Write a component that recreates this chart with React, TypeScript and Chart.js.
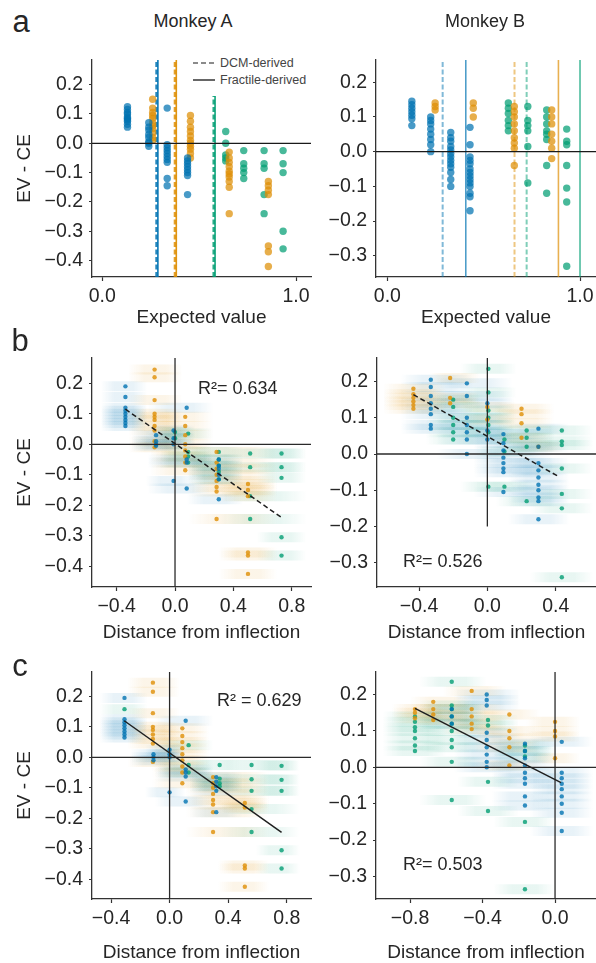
import React, { useEffect, useRef } from 'react';
import { Chart, registerables } from 'chart.js';

Chart.register(...registerables);

const FONT = "'Liberation Sans', Arial, Helvetica, sans-serif";
const INK = '#262626';
const PALETTE: Record<string, string> = { blue: '1,115,178', orange: '222,143,5', green: '2,158,115' };
const LINE_COLORS = ['blue', 'orange', 'green'];

// ---------------- Panel a, Monkey A: [expected value, EV - CE values] ----------------
type Strip = [number, number[]];
const aLeftBlue: Strip[] = [
  [0.13, [0.125, 0.115, 0.105, 0.1, 0.09, 0.085, 0.08, 0.075, 0.065, 0.055]],
  [0.24, [0.07, 0.055, 0.045, 0.03, 0.02, 0.005, 0.0, -0.01]],
  [0.335, [0.12, -0.005, -0.015, -0.025, -0.035, -0.045, -0.055, -0.065, -0.12, -0.145]],
  [0.44, [-0.05, -0.06, -0.07, -0.08, -0.09, -0.1, -0.11, -0.175]],
];
const aLeftOrange: Strip[] = [
  [0.26, [0.15, 0.12, 0.105, 0.095, 0.085, 0.07, 0.06, 0.05, 0.035, 0.02, 0.01]],
  [0.455, [0.095, 0.075, 0.055, 0.04, 0.025, 0.01, 0.0, -0.01, -0.02, -0.035, -0.05]],
  [0.655, [-0.03, -0.05, -0.065, -0.08, -0.095, -0.105, -0.115, -0.13, -0.15, -0.24]],
  [0.857, [-0.13, -0.145, -0.16, -0.175, -0.35, -0.37, -0.42]],
];
const aLeftGreen: Strip[] = [
  [0.637, [0.04, 0.0, -0.04, -0.05, -0.06]],
  [0.73, [-0.025, -0.07, -0.085, -0.1, -0.12]],
  [0.835, [-0.025, -0.07, -0.085, -0.175, -0.24]],
  [0.933, [-0.025, -0.07, -0.1, -0.3, -0.36]],
];
const aLeftDcm = [0.28, 0.375, 0.575];
const aLeftFractile = [0.287, 0.382, 0.582];

// ---------------- Panel a, Monkey B ----------------
const aRightBlue: Strip[] = [
  [0.127, [0.145, 0.135, 0.125, 0.115, 0.105, 0.095, 0.075]],
  [0.225, [0.1, 0.09, 0.08, 0.065, 0.05, 0.035, 0.02, 0.0]],
  [0.329, [0.055, 0.04, 0.03, 0.015, 0.005, -0.005, -0.015, -0.025, -0.035, -0.045, -0.06, -0.08, -0.1]],
  [0.429, [0.07, 0.02, -0.015, -0.025, -0.035, -0.05, -0.06, -0.07, -0.08, -0.09, -0.1, -0.12, -0.13, -0.17]],
];
const aRightOrange: Strip[] = [
  [0.248, [0.14, 0.13, 0.12]],
  [0.446, [0.14, 0.125, 0.1]],
  [0.659, [0.13, 0.115, 0.1, 0.08, 0.06, 0.04, 0.025, 0.01, -0.04]],
  [0.853, [0.12, 0.1, 0.08, 0.05, 0.03, 0.01, -0.02]],
];
const aRightGreen: Strip[] = [
  [0.628, [0.14, 0.125, 0.11, 0.09, 0.075, 0.06]],
  [0.729, [0.13, 0.09, 0.075, 0.06, 0.015, -0.09]],
  [0.827, [0.12, 0.1, 0.08, 0.06, 0.05, 0.035, -0.04, -0.12]],
  [0.931, [0.065, 0.03, 0.02, -0.04, -0.105, -0.145, -0.33]],
];
const aRightDcm = [0.287, 0.66, 0.723];
const aRightFractile = [0.407, 0.888, 1.0];

// ---------------- Panels b, c: [colour, distance, band from, band to, EV - CE values] ----------------
type Col = [string, number, number, number, number[]];
const bLeftCols: Col[] = [
  ['blue', -0.34, -0.51, -0.19, [0.19, 0.155, 0.12, 0.11, 0.1, 0.09, 0.08, 0.07, 0.06]],
  ['orange', -0.14, -0.32, 0.05, [0.245, 0.22, 0.145, 0.1, 0.09, 0.08, 0.06, 0.045, 0.01, -0.01]],
  ['blue', -0.13, -0.3, 0.05, [0.03, 0.01, 0.0, -0.005]],
  ['blue', -0.01, -0.2, 0.14, [0.045, 0.02, 0.0, -0.12]],
  ['green', 0.0, -0.15, 0.14, [0.04, 0.02]],
  ['blue', 0.08, -0.19, 0.26, [0.12, -0.05, -0.06, -0.145]],
  ['orange', 0.07, -0.17, 0.26, [0.09, 0.06, 0.03, 0.0, -0.02, -0.04, -0.06, -0.085]],
  ['green', 0.09, -0.1, 0.26, [0.035, -0.025, -0.04, -0.06]],
  ['orange', 0.285, 0.09, 0.7, [-0.025, -0.06, -0.08, -0.1, -0.12, -0.14, -0.155, -0.245]],
  ['green', 0.3, 0.09, 0.47, [-0.025, -0.05, -0.07, -0.09, -0.115]],
  ['blue', 0.3, 0.08, 0.47, [-0.05, -0.07, -0.08, -0.1, -0.115, -0.18]],
  ['orange', 0.5, 0.3, 0.7, [-0.13, -0.15, -0.17, -0.355, -0.365, -0.425]],
  ['green', 0.515, 0.31, 0.9, [-0.03, -0.075, -0.17, -0.245]],
  ['green', 0.73, 0.56, 0.9, [-0.03, -0.075, -0.11, -0.305, -0.365]],
];
const bRightCols: Col[] = [
  ['orange', -0.433, -0.61, -0.24, [0.18, 0.165, 0.155, 0.145, 0.135, 0.125]],
  ['blue', -0.331, -0.51, -0.08, [0.205, 0.185, 0.16, 0.14, 0.125, 0.11, 0.08, 0.07]],
  ['orange', -0.218, -0.34, -0.04, [0.21, 0.155, 0.14]],
  ['green', -0.2, -0.36, 0.0, [0.15, 0.13, 0.1, 0.08, 0.06, 0.04]],
  ['blue', -0.12, -0.3, 0.15, [0.195, 0.16, 0.1, 0.08, 0.06, 0.04, 0.0]],
  ['green', 0.006, -0.16, 0.17, [0.235, 0.17, 0.12, 0.1, 0.08, 0.06, -0.09]],
  ['blue', 0.0, -0.15, 0.16, [0.14, 0.065, 0.04]],
  ['orange', 0.0, -0.15, 0.17, [0.13, 0.095]],
  ['blue', 0.094, -0.08, 0.39, [0.055, 0.03, 0.01, -0.01, -0.025, -0.04, -0.05, -0.105]],
  ['green', 0.1, -0.07, 0.3, [0.04, 0.007, -0.09]],
  ['orange', 0.2, 0.035, 0.39, [0.125, 0.11, 0.085, 0.045]],
  ['green', 0.23, 0.05, 0.4, [0.065, 0.045, 0.02, -0.13]],
  ['blue', 0.299, 0.12, 0.48, [0.07, 0.02, -0.025, -0.045, -0.065, -0.085, -0.1, -0.12, -0.13, -0.18]],
  ['orange', 0.299, 0.12, 0.45, [0.02]],
  ['green', 0.436, 0.25, 0.62, [0.065, 0.035, 0.025, -0.04, -0.11, -0.15, -0.34]],
];
const cLeftCols: Col[] = [
  ['blue', -0.308, -0.48, -0.15, [0.195, 0.125, 0.115, 0.105, 0.095, 0.085, 0.075, 0.065]],
  ['green', -0.308, -0.48, -0.15, [0.158]],
  ['orange', -0.114, -0.29, 0.07, [0.245, 0.215, 0.145, 0.1, 0.09, 0.075, 0.06, 0.045, -0.015]],
  ['blue', -0.11, -0.27, 0.07, [0.01, 0.0, -0.01]],
  ['blue', 0.0, -0.17, 0.11, [0.025, 0.01, 0.0, -0.115]],
  ['orange', 0.087, -0.12, 0.27, [0.095, 0.07, 0.05, 0.03, 0.01, -0.01, -0.03, -0.05, -0.085]],
  ['blue', 0.11, -0.1, 0.3, [0.12, -0.04, -0.05, -0.063, -0.145]],
  ['green', 0.13, -0.08, 0.3, [0.04, -0.025, -0.05]],
  ['orange', 0.297, 0.11, 0.68, [-0.065, -0.085, -0.1, -0.12, -0.14, -0.155, -0.18, -0.245]],
  ['blue', 0.319, 0.13, 0.5, [-0.065, -0.08, -0.095, -0.11, -0.18]],
  ['green', 0.342, 0.14, 0.5, [-0.025, -0.07, -0.085, -0.095]],
  ['orange', 0.514, 0.33, 0.68, [-0.15, -0.165, -0.355, -0.365, -0.425]],
  ['green', 0.56, 0.34, 0.89, [-0.025, -0.072, -0.11, -0.17, -0.245]],
  ['green', 0.765, 0.59, 0.89, [-0.028, -0.074, -0.11, -0.305, -0.365]],
];
const cRightCols: Col[] = [
  ['green', -0.773, -0.95, -0.6, [0.14, 0.125, 0.11, 0.1, 0.08, 0.06, 0.045]],
  ['orange', -0.773, -0.9, -0.6, [0.16, 0.15, 0.135]],
  ['orange', -0.672, -0.8, -0.45, [0.18, 0.16, 0.145, 0.13]],
  ['green', -0.57, -0.75, -0.38, [0.235, 0.17, 0.16, 0.14, 0.12, 0.1, 0.075, 0.055, 0.015, -0.09]],
  ['blue', -0.57, -0.75, -0.38, [0.16, 0.14, 0.12]],
  ['orange', -0.46, -0.62, -0.27, [0.21, 0.16, 0.14, 0.12, 0.105]],
  ['blue', -0.377, -0.56, -0.19, [0.2, 0.185, 0.17, 0.095, 0.075, 0.055, 0.035, 0.015, 0.0]],
  ['green', -0.37, -0.54, -0.2, [0.13, 0.115, -0.04, -0.12]],
  ['orange', -0.252, -0.45, -0.08, [0.145, 0.1, 0.08, 0.055, 0.005]],
  ['blue', -0.166, -0.35, -0.01, [0.065, 0.045, 0.025, 0.005, -0.015, -0.03, -0.045, -0.08, -0.105]],
  ['green', -0.166, -0.34, 0.0, [0.06, 0.045, 0.03, -0.15, -0.335]],
  ['orange', 0.0, -0.16, 0.14, [0.125, 0.1, 0.085, 0.025]],
  ['blue', 0.037, -0.14, 0.21, [0.07, -0.015, -0.03, -0.045, -0.06, -0.08, -0.1, -0.125, -0.175]],
];

// regression lines [x, y] end points
const bLeftFit: [number, number][] = [[-0.34, 0.115], [0.73, -0.24]];
const bRightFit: [number, number][] = [[-0.433, 0.164], [0.42, -0.063]];
const cLeftFit: [number, number][] = [[-0.31, 0.12], [0.765, -0.246]];
const cRightFit: [number, number][] = [[-0.773, 0.162], [0.033, -0.042]];

// ticks
const evTicks = [0, 1];
const yTicksMonkeyA = [-0.4, -0.3, -0.2, -0.1, 0, 0.1, 0.2];
const yTicksMonkeyB = [-0.3, -0.2, -0.1, 0, 0.1, 0.2];
const distTicksA = [-0.4, 0, 0.4, 0.8];
const distTicksBb = [-0.4, 0, 0.4];
const distTicksBc = [-0.8, -0.4, 0];

const r2Labels = ['R\u00b2= 0.634', 'R\u00b2= 0.526', 'R\u00b2 = 0.629', 'R\u00b2= 0.503'];

// ---------------- helpers ----------------
const rgba = (c: string, a: number) => `rgba(${PALETTE[c] || c},${a})`;
const fmt = (v: number) => {
  const s = Math.abs(v).toFixed(1);
  return v < -1e-9 ? '\u2212' + s : s;
};

function seg(pts: [number, number][], color: string, width: number, dash: number[], order: number) {
  return {
    data: pts.map(([x, y]) => ({ x, y })),
    showLine: true,
    borderColor: color,
    borderWidth: width,
    borderDash: dash,
    borderCapStyle: 'butt',
    pointRadius: 0,
    pointHoverRadius: 0,
    pointBorderColor: 'transparent',
    pointBackgroundColor: 'transparent',
    fill: false,
    order,
  };
}

function stripPoints(strips: Strip[], color: string, r: number, alpha: number) {
  return {
    data: strips.flatMap(([x, ys]) => ys.map((y) => ({ x, y }))),
    backgroundColor: rgba(color, alpha),
    borderWidth: 0,
    pointRadius: r,
    showLine: false,
    order: 1,
  };
}

function aDatasets(
  blue: Strip[], orange: Strip[], green: Strip[], dcm: number[], fractile: number[],
  xlim: [number, number], ylim: [number, number], dashAlpha: number, solidAlpha: number, dashW: number, solidW: number,
) {
  const ds: any[] = [];
  ds.push(seg([[xlim[0], 0], [xlim[1], 0]], '#1a1a1a', 1.3, [], 0));
  ds.push(stripPoints(blue, 'blue', 3.7, 0.72));
  ds.push(stripPoints(orange, 'orange', 3.7, 0.72));
  ds.push(stripPoints(green, 'green', 3.7, 0.72));
  LINE_COLORS.forEach((c, i) => {
    ds.push(seg([[fractile[i], ylim[0]], [fractile[i], ylim[1]]], rgba(c, solidAlpha), solidW, [], 2));
    ds.push(seg([[dcm[i], ylim[0]], [dcm[i], ylim[1]]], rgba(c, dashAlpha), dashW, [5, 2.5], 2));
  });
  return ds;
}

const bandColor = (c: string, x0: number, x1: number) => (ctx: any) => {
  const chart = ctx.chart;
  const xs = chart && chart.scales && chart.scales.x;
  const fallback = rgba(c, 0.06);
  if (!xs) return fallback;
  const p0 = xs.getPixelForValue(x0);
  const p1 = xs.getPixelForValue(x1);
  if (!isFinite(p0) || !isFinite(p1) || p1 - p0 < 1) return fallback;
  const g = chart.ctx.createLinearGradient(p0, 0, p1, 0);
  g.addColorStop(0, rgba(c, 0.0));
  g.addColorStop(0.3, rgba(c, 0.09));
  g.addColorStop(0.7, rgba(c, 0.09));
  g.addColorStop(1, rgba(c, 0.0));
  return g;
};

function bcDatasets(
  cols: Col[], fit: [number, number][], fitDash: number[], xlim: [number, number], ylim: [number, number], vBottom: number,
) {
  const ds: any[] = [];
  ds.push(seg(fit, '#1f1f1f', 1.5, fitDash, 0));
  ds.push(seg([[xlim[0], 0], [xlim[1], 0]], '#2a2a2a', 1.3, [], 0.5));
  ds.push(seg([[0, vBottom], [0, ylim[1]]], '#2a2a2a', 1.3, [], 0.5));
  LINE_COLORS.forEach((c) => {
    const pts = cols.filter((col) => col[0] === c).flatMap((col) => col[4].map((y) => ({ x: col[1], y })));
    ds.push({ data: pts, backgroundColor: rgba(c, 0.8), borderWidth: 0, pointRadius: 2.2, showLine: false, order: 1 });
  });
  cols.forEach(([c, , x0, x1, ys]) => {
    ys.forEach((y) => {
      ds.push({
        data: [{ x: x0, y }, { x: x1, y }],
        showLine: true,
        borderColor: bandColor(c, x0, x1),
        borderWidth: 10,
        borderCapStyle: 'butt',
        pointRadius: 0,
        pointHoverRadius: 0,
        pointBorderColor: 'transparent',
        pointBackgroundColor: 'transparent',
        fill: false,
        order: 3,
      });
    });
  });
  return ds;
}

// ---------------- panel geometry ----------------
interface Spec {
  key: string;
  left: number; top: number; width: number; height: number;
  xH: number; yW: number; padRight: number;
  xlim: [number, number]; ylim: [number, number];
  xTicks: number[]; yTicks: number[];
  xTitle: string; yTitle: string | null;
  datasets: any[];
}

const Y_W = 92;
const PAD_TOP = 20;
const PAD_RIGHT = 5;

function spec(
  key: string, area: { l: number; t: number; r: number; b: number }, xTitleCY: number,
  xlim: [number, number], ylim: [number, number], xTicks: number[], yTicks: number[],
  xTitle: string, yTitle: string | null, datasets: any[],
): Spec {
  const left = area.l - Y_W;
  const top = area.t - PAD_TOP;
  const width = area.r - left + PAD_RIGHT;
  const height = Math.round(xTitleCY + 11.4 - top);
  const xH = height - PAD_TOP - (area.b - area.t);
  return { key, left, top, width, height, xH, yW: Y_W, padRight: PAD_RIGHT, xlim, ylim, xTicks, yTicks, xTitle, yTitle, datasets };
}

const aLX: [number, number] = [-0.053, 1.077];
const aLY: [number, number] = [-0.456, 0.284];
const aRX: [number, number] = [-0.059, 1.083];
const aRY: [number, number] = [-0.361, 0.264];
const bLX: [number, number] = [-0.569, 0.932];
const bLY: [number, number] = [-0.468, 0.283];
const bRX: [number, number] = [-0.646, 0.636];
const bRY: [number, number] = [-0.367, 0.265];
const cLX: [number, number] = [-0.53, 0.966];
const cLY: [number, number] = [-0.465, 0.28];
const cRX: [number, number] = [-0.988, 0.226];
const cRY: [number, number] = [-0.362, 0.262];

const SPECS: Spec[] = [
  spec('aL', { l: 92, t: 60, r: 311, b: 277 }, 318, aLX, aLY, evTicks, yTicksMonkeyA, 'Expected value', 'EV - CE',
    aDatasets(aLeftBlue, aLeftOrange, aLeftGreen, aLeftDcm, aLeftFractile, aLX, aLY, 0.85, 0.95, 2.5, 1.6)),
  spec('aR', { l: 376, t: 60, r: 596, b: 277 }, 318, aRX, aRY, evTicks, yTicksMonkeyB, 'Expected value', null,
    aDatasets(aRightBlue, aRightOrange, aRightGreen, aRightDcm, aRightFractile, aRX, aRY, 0.5, 0.7, 2, 1.6)),
  spec('bL', { l: 92, t: 358, r: 311, b: 587 }, 633, bLX, bLY, distTicksA, yTicksMonkeyA, 'Distance from inflection', 'EV - CE',
    bcDatasets(bLeftCols, bLeftFit, [5, 3], bLX, bLY, bLY[0])),
  spec('bR', { l: 377, t: 358, r: 596, b: 587 }, 633, bRX, bRY, distTicksBb, yTicksMonkeyB, 'Distance from inflection', null,
    bcDatasets(bRightCols, bRightFit, [5, 3], bRX, bRY, -0.2)),
  spec('cL', { l: 92, t: 672, r: 311, b: 899 }, 953, cLX, cLY, distTicksA, yTicksMonkeyA, 'Distance from inflection', 'EV - CE',
    bcDatasets(cLeftCols, cLeftFit, [], cLX, cLY, cLY[0])),
  spec('cR', { l: 376, t: 672, r: 596, b: 899 }, 953, cRX, cRY, distTicksBc, yTicksMonkeyB, 'Distance from inflection', null,
    bcDatasets(cRightCols, cRightFit, [], cRX, cRY, cRY[0])),
];

function Panel({ s }: { s: Spec }) {
  const ref = useRef<HTMLCanvasElement | null>(null);
  useEffect(() => {
    if (!ref.current) return;
    const tickFont = { family: FONT, size: 19.5 };
    const chart = new Chart(ref.current, {
      type: 'scatter',
      data: { datasets: s.datasets },
      options: {
        responsive: false,
        animation: false,
        devicePixelRatio: 1,
        events: [],
        layout: { padding: { top: PAD_TOP, right: s.padRight, left: 0, bottom: 0 }, autoPadding: false },
        plugins: { legend: { display: false }, tooltip: { enabled: false } },
        scales: {
          x: {
            type: 'linear',
            min: s.xlim[0],
            max: s.xlim[1],
            bounds: 'data',
            afterBuildTicks: (sc: any) => { sc.ticks = s.xTicks.map((v) => ({ value: v })); },
            afterFit: (sc: any) => { sc.height = s.xH; sc.paddingLeft = 0; sc.paddingRight = 0; },
            ticks: { callback: (v: any) => fmt(Number(v)), font: tickFont, color: INK, padding: 4, maxRotation: 0, autoSkip: false },
            grid: { display: true, drawOnChartArea: false, drawTicks: true, tickLength: 4, tickColor: '#333', tickWidth: 1.2 },
            border: { display: true, color: '#333', width: 1.3 },
            title: { display: true, text: s.xTitle, font: { family: FONT, size: 19 }, color: INK, padding: 0 },
          },
          y: {
            type: 'linear',
            min: s.ylim[0],
            max: s.ylim[1],
            bounds: 'data',
            afterBuildTicks: (sc: any) => { sc.ticks = s.yTicks.map((v) => ({ value: v })); },
            afterFit: (sc: any) => { sc.width = s.yW; sc.paddingTop = 0; sc.paddingBottom = 0; },
            ticks: { callback: (v: any) => fmt(Number(v)), font: tickFont, color: INK, padding: 6, autoSkip: false },
            grid: { display: true, drawOnChartArea: false, drawTicks: true, tickLength: 3, tickColor: '#333', tickWidth: 1.2 },
            border: { display: true, color: '#333', width: 1.3 },
            title: { display: !!s.yTitle, text: s.yTitle || '', font: { family: FONT, size: 19 }, color: INK, padding: { top: 13, bottom: 0 } },
          },
        },
      } as any,
    });
    return () => chart.destroy();
  }, [s]);
  return (
    <canvas
      ref={ref}
      width={s.width}
      height={s.height}
      style={{ position: 'absolute', left: s.left, top: s.top, width: s.width, height: s.height }}
    />
  );
}

const textStyle = (x: number, y: number, size: number, center = true): React.CSSProperties => ({
  position: 'absolute',
  left: x,
  top: y,
  transform: center ? 'translate(-50%, -50%)' : 'translate(0, -50%)',
  fontFamily: FONT,
  fontSize: size,
  color: INK,
  whiteSpace: 'nowrap',
  lineHeight: 1,
});

export default function App() {
  return (
    <div style={{ position: 'absolute', left: 0, top: 0, width: 596, height: 963, overflow: 'hidden', background: '#fff' }}>
      {SPECS.map((s) => <Panel key={s.key} s={s} />)}
      <div style={textStyle(21, 21, 31)}>a</div>
      <div style={textStyle(20, 340, 31)}>b</div>
      <div style={textStyle(20, 665, 31)}>c</div>
      <div style={textStyle(193, 21, 18)}>Monkey A</div>
      <div style={textStyle(485, 21, 18)}>Monkey B</div>
      <div style={textStyle(198, 388, 18, false)}>{r2Labels[0]}</div>
      <div style={textStyle(403, 561, 18, false)}>{r2Labels[1]}</div>
      <div style={textStyle(217, 700, 18, false)}>{r2Labels[2]}</div>
      <div style={textStyle(403, 864, 18, false)}>{r2Labels[3]}</div>
      <div style={{ position: 'absolute', left: 189, top: 54, width: 128, height: 42, background: '#fff' }}>
        <svg width={26} height={42} style={{ position: 'absolute', left: 0, top: 0 }}>
          <line x1={4} y1={9} x2={26} y2={9} stroke="#666" strokeWidth={1.5} strokeDasharray="5 3" />
          <line x1={4} y1={26} x2={26} y2={26} stroke="#333" strokeWidth={1.5} />
        </svg>
        <div style={{ ...textStyle(31, 9, 12.5, false), color: '#444' }}>DCM-derived</div>
        <div style={{ ...textStyle(31, 26, 12.5, false), color: '#444' }}>Fractile-derived</div>
      </div>
    </div>
  );
}
